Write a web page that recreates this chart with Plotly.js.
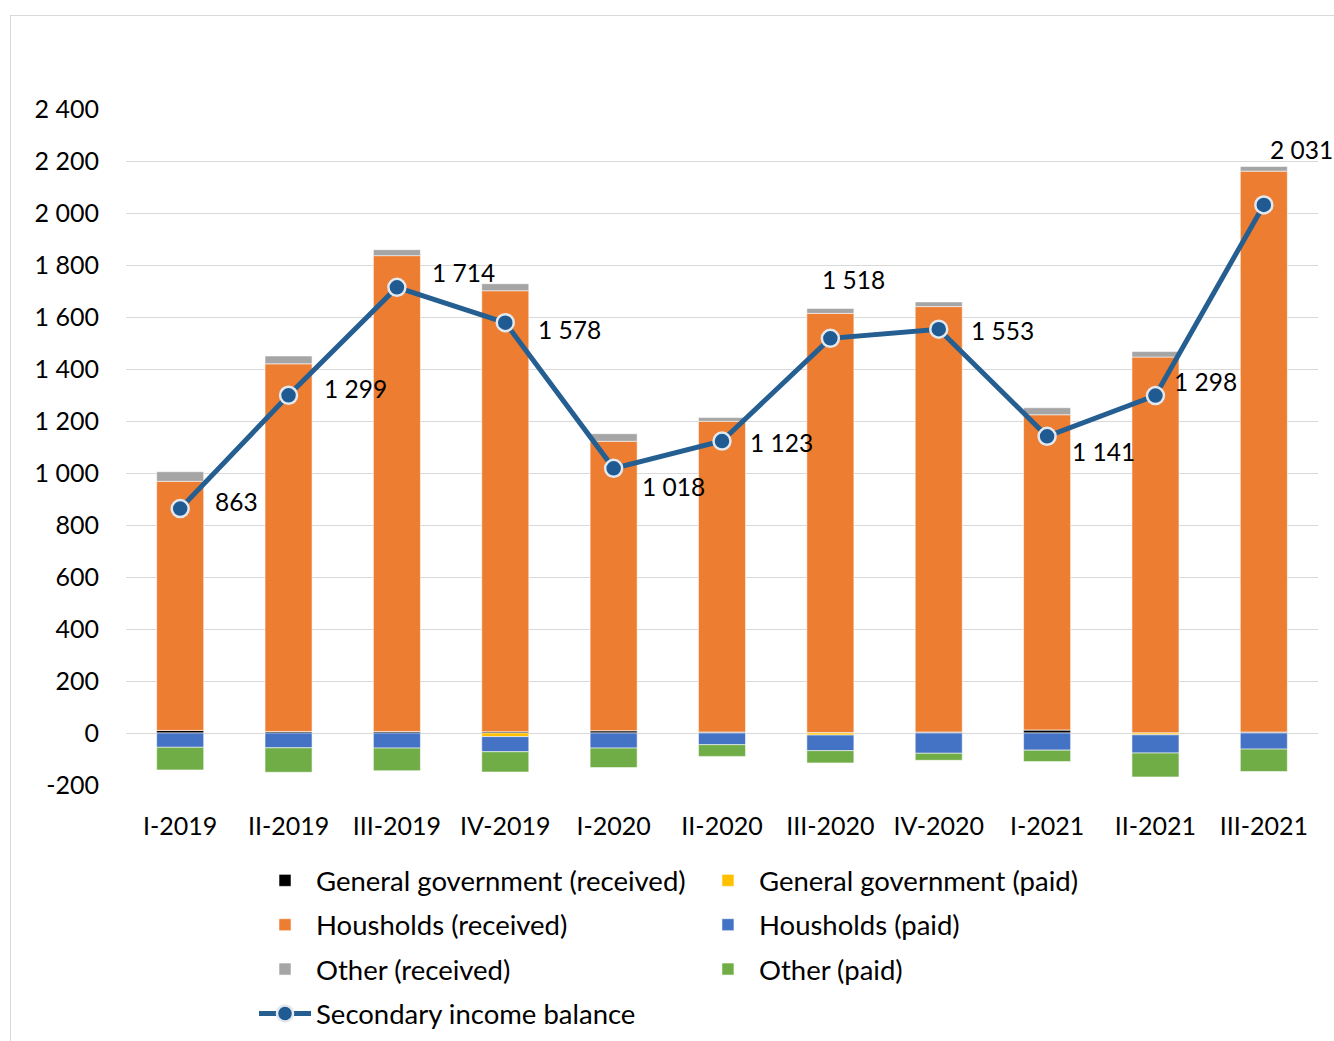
<!DOCTYPE html>
<html>
<head>
<meta charset="utf-8">
<script src="https://cdn.plot.ly/plotly-3.0.1.min.js"></script>
<style>
  html, body { margin: 0; padding: 0; background: #fff; }
  #frame { position: absolute; left: 10px; top: 15px; width: 1400px; height: 1100px; border: 1px solid #d9d9d9; box-sizing: border-box; }
  #chart { position: absolute; left: 0; top: 0; width: 1334px; height: 1041px; }
</style>
</head>
<body>
<div id="frame"></div>
<div id="chart"></div>
<script>
const categories = ['I-2019', 'II-2019', 'III-2019', 'IV-2019', 'I-2020', 'II-2020', 'III-2020', 'IV-2020', 'I-2021', 'II-2021', 'III-2021'];
const ggReceived    = [10, 6, 6, 5, 9, 4, 2, 4, 12, 1, 4];
const ggPaid        = [0, 0, 0, -14, 0, 0, -8, 0, 0, -7, 0];
const hhReceived    = [958, 1414, 1830, 1696, 1113, 1195, 1612, 1636, 1212, 1445, 2157];
const hhPaid        = [-55, -57, -58, -58, -58, -45, -60, -78, -66, -70, -62];
const otherReceived = [37, 30, 23, 27, 29, 14, 19, 18, 27, 21, 18];
const otherPaid     = [-87, -94, -87, -78, -75, -45, -47, -27, -44, -92, -86];
const balance       = [863, 1299, 1714, 1578, 1018, 1123, 1518, 1553, 1141, 1298, 2031];
const yTicks        = [-200, 0, 200, 400, 600, 800, 1000, 1200, 1400, 1600, 1800, 2000, 2200, 2400];

// label offsets (px) relative to each point: [xshift, yshift]
const labelOffsets = [[33, 7], [33, 7], [33, 15], [31, -7], [26, -18], [26, -1], [-10, 59], [30, -1], [23, -15], [17, 14], [4, 55]];

function fmt(v) {
  const s = String(Math.abs(v)).replace(/\B(?=(\d{3})+(?!\d))/g, ' ');
  return (v < 0 ? '-' : '') + s;
}

const FONT = 'Lato, "Open Sans", sans-serif';
const barLine = { color: 'rgba(255,255,255,0.55)', width: 1 };

function barTrace(name, y, color, legend, group) {
  return {
    type: 'bar', name: name, x: categories, y: y,
    marker: { color: color, line: barLine },
    legend: legend, legendgroup: group, hoverinfo: 'name+y'
  };
}

const traces = [
  barTrace('General government (received)', ggReceived, '#000000', 'legend', 'g1'),
  barTrace('General government (paid)', ggPaid, '#FFC000', 'legend2', 'g2'),
  barTrace('Housholds (received)', hhReceived, '#ED7D31', 'legend', 'g3'),
  barTrace('Housholds (paid)', hhPaid, '#4472C4', 'legend2', 'g4'),
  barTrace('Other (received)', otherReceived, '#A5A5A5', 'legend', 'g5'),
  barTrace('Other (paid)', otherPaid, '#70AD47', 'legend2', 'g6'),
  {
    type: 'scatter', mode: 'lines+markers', name: 'Secondary income balance',
    x: categories, y: balance,
    line: { color: '#255E91', width: 5 },
    marker: { color: '#1F5A92', size: 17, line: { color: '#E3E8EE', width: 2.5 } },
    legend: 'legend', legendgroup: 'g7', cliponaxis: false
  }
];

const annotations = balance.map((v, i) => ({
  x: categories[i], y: v, xref: 'x', yref: 'y',
  text: fmt(v), showarrow: false,
  xanchor: 'left', yanchor: 'middle',
  xshift: labelOffsets[i][0], yshift: labelOffsets[i][1],
  font: { family: FONT, size: 24.5, color: '#000' }
}));

const legendCommon = {
  orientation: 'v', yanchor: 'top', xanchor: 'left',
  font: { family: FONT, size: 27.5, color: '#000' },
  bgcolor: 'rgba(0,0,0,0)', tracegroupgap: 5.6, traceorder: 'grouped',
  itemwidth: 52
};

const layout = {
  width: 1334, height: 1041,
  margin: { l: 126, r: 16, t: 109, b: 256, autoexpand: false },
  paper_bgcolor: 'rgba(0,0,0,0)', plot_bgcolor: 'rgba(0,0,0,0)',
  separators: ', ',
  barmode: 'relative', bargap: 0.566,
  font: { family: FONT, size: 25, color: '#000' },
  xaxis: {
    type: 'category', range: [-0.5, categories.length - 0.5],
    showgrid: false, zeroline: false, showline: false,
    ticks: '', ticklabelstandoff: 24, automargin: false,
    tickfont: { family: FONT, size: 25, color: '#000' }
  },
  yaxis: {
    range: [-200, 2400], tickvals: yTicks, ticktext: yTicks.map(fmt),
    showgrid: true, gridcolor: '#d9d9d9', gridwidth: 1,
    zeroline: false, showline: false, ticks: '', ticklabelstandoff: 26, automargin: false,
    tickfont: { family: FONT, size: 25, color: '#000' }
  },
  showlegend: true,
  legend: Object.assign({}, legendCommon, { x: 0.1074, y: -0.105 }),
  legend2: Object.assign({}, legendCommon, { x: 0.479, y: -0.105 }),
  annotations: annotations
};

Plotly.newPlot('chart', traces, layout, { displayModeBar: false, staticPlot: true });
</script>
</body>
</html>
